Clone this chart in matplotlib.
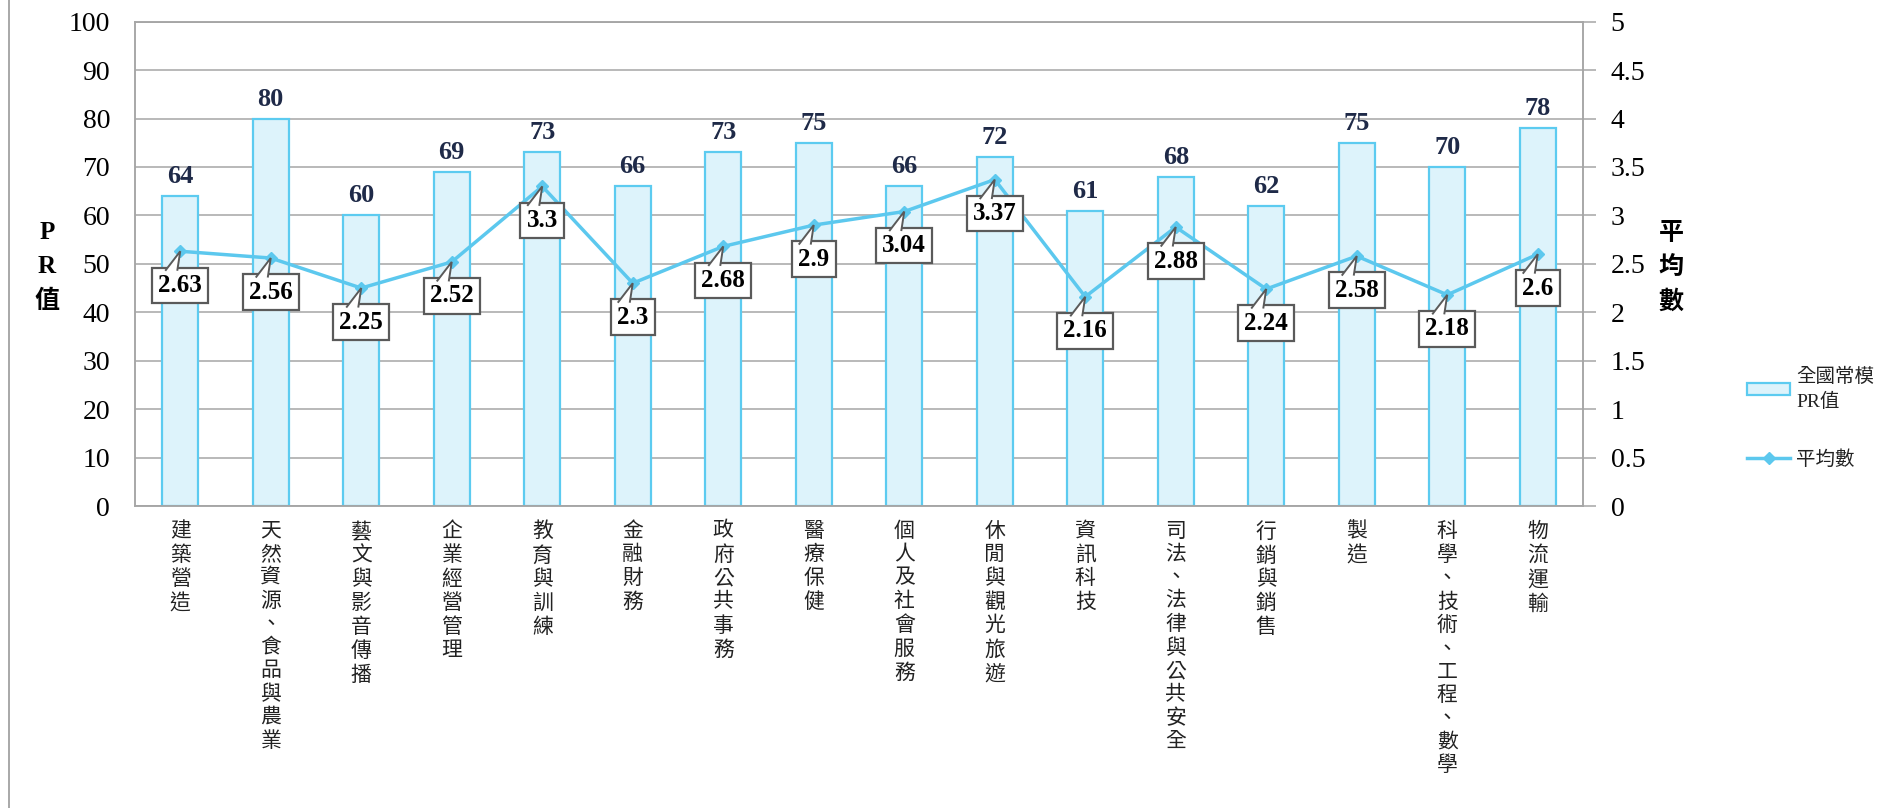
import matplotlib
matplotlib.use("Agg")
import matplotlib.pyplot as plt
import matplotlib.transforms as mtransforms
from matplotlib.path import Path
from matplotlib.patches import PathPatch, Patch
from matplotlib.lines import Line2D
import numpy as np

plt.rcParams["font.family"] = ["Liberation Serif", "Noto Sans CJK TC"]

categories = ["建築營造", "天然資源、食品與農業", "藝文與影音傳播", "企業經營管理",
              "教育與訓練", "金融財務", "政府公共事務", "醫療保健",
              "個人及社會服務", "休閒與觀光旅遊", "資訊科技", "司法、法律與公共安全",
              "行銷與銷售", "製造", "科學、技術、工程、數學", "物流運輸"]
pr_values = [64, 80, 60, 69, 73, 66, 73, 75, 66, 72, 61, 68, 62, 75, 70, 78]
mean_values = [2.63, 2.56, 2.25, 2.52, 3.3, 2.3, 2.68, 2.9, 3.04, 3.37,
               2.16, 2.88, 2.24, 2.58, 2.18, 2.6]
mean_labels = ["2.63", "2.56", "2.25", "2.52", "3.3", "2.3", "2.68", "2.9", "3.04",
               "3.37", "2.16", "2.88", "2.24", "2.58", "2.18", "2.6"]
left_ticks = [0, 10, 20, 30, 40, 50, 60, 70, 80, 90, 100]
right_ticks = [0, 0.5, 1, 1.5, 2, 2.5, 3, 3.5, 4, 4.5, 5]

BAR_FACE = "#DDF3FB"
BAR_EDGE = "#5CCBF0"
LINE_COLOR = "#5CC8EE"
GRID = "#A6A6A6"
W, H = 1883, 808

fig = plt.figure(figsize=(W / 100, H / 100), dpi=100)
ax1 = fig.add_axes([135 / W, 1 - 506 / H, (1583 - 135) / W, (506 - 21.7) / H])
ax2 = ax1.twinx()

x = np.arange(len(categories))
ax1.bar(x, pr_values, width=0.4, color=BAR_FACE, edgecolor=BAR_EDGE, linewidth=1.6, zorder=2)
for xi, v in zip(x, pr_values):
    ax1.annotate(str(v), xy=(xi, v), xytext=(0, 8), textcoords="offset pixels",
                 ha="center", va="bottom", fontsize=19, fontweight="bold", color="#1F2A48")

ax1.set_xlim(-0.5, len(categories) - 0.5)
ax1.set_ylim(0, 100)
ax1.set_yticks(left_ticks)
ax1.set_yticklabels([str(t) for t in left_ticks], fontsize=20)
ax1.tick_params(axis="y", length=0, pad=18)
ax1.set_xticks(x)
ax1.set_xticklabels(["\n".join(c) for c in categories], fontsize=15, color="#222222",
                    va="top", linespacing=1.3)
ax1.tick_params(axis="x", length=0, pad=12)
ax1.grid(axis="y", color=GRID, linewidth=1.1)
ax1.set_axisbelow(True)
for s in ax1.spines.values():
    s.set_color(GRID)
    s.set_linewidth(1.1)

ax2.plot(x, mean_values, color=LINE_COLOR, linewidth=2.5, marker="D", markersize=6,
         zorder=3)
ax2.set_ylim(0, 5)
ax2.set_yticks(right_ticks)
ax2.set_yticklabels([f"{t:g}" for t in right_ticks], fontsize=20)
ax2.tick_params(axis="y", length=9, color=GRID, width=1.1, pad=11)
for s in ax2.spines.values():
    s.set_color(GRID)
    s.set_linewidth(1.1)

# callouts below each point
for xi, v, lab in zip(x, mean_values, mean_labels):
    ax2.annotate(lab, xy=(xi, v), xytext=(0, -34), textcoords="offset pixels",
                 ha="center", va="center", fontsize=18, fontweight="bold", color="black",
                 bbox=dict(boxstyle="square,pad=0.25", fc="white", ec="#5A5A5A", lw=1.6),
                 zorder=5)
    tail = Path([(-15, -19.5), (0, 0), (-3, -19.5)])
    trans = mtransforms.ScaledTranslation(xi, v, ax2.transData)
    ax2.add_patch(PathPatch(tail, transform=trans, fc="white", ec="#5A5A5A", lw=1.4,
                            zorder=6, clip_on=False))

fig.text(47 / W, 1 - 267 / H, "P\nR\n值", ha="center", va="center", fontsize=18,
         fontweight="bold", linespacing=1.65)
fig.text(1671 / W, 1 - 268 / H, "平\n均\n數", ha="center", va="center", fontsize=18,
         fontweight="bold", linespacing=1.6)

handles = [Patch(facecolor=BAR_FACE, edgecolor=BAR_EDGE, linewidth=1.6),
           Line2D([0], [0], color=LINE_COLOR, linewidth=2.5, marker="D", markersize=6)]
leg = fig.legend(handles, ["全國常模\nPR值", "平均數"], loc="upper left",
                 bbox_to_anchor=(1730 / W, 1 - 350 / H), frameon=False, fontsize=14,
                 handlelength=2.2, handleheight=0.55, handletextpad=0.3, labelspacing=2.0)
for t in leg.get_texts():
    t.set_linespacing(1.5)
    t.set_color("#222222")

fig.add_artist(Line2D([9 / W, 9 / W], [0, 1], color="#999999", linewidth=1.2))

fig.savefig("out.png", dpi=100)
